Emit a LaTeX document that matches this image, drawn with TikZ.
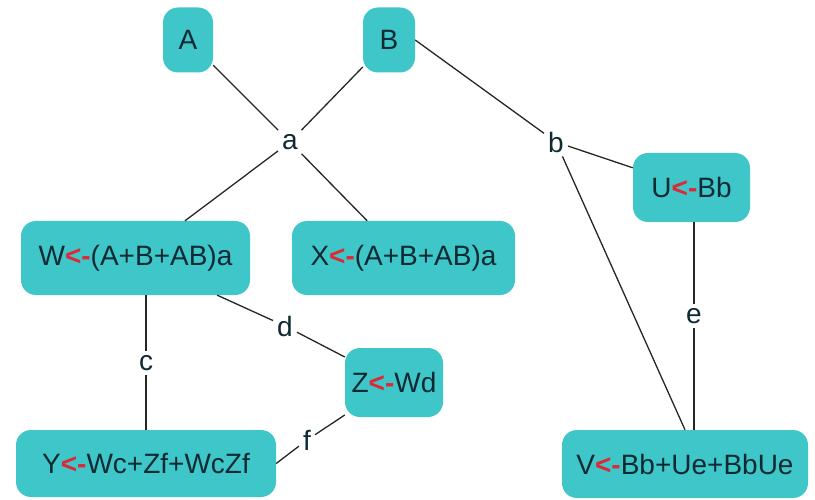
\documentclass[tikz,border=0pt]{standalone}
\usepackage{fontspec}
\setmainfont{Liberation Sans}
\definecolor{boxfill}{RGB}{62,198,200}
\definecolor{txt}{RGB}{16,42,52}
\definecolor{arr}{RGB}{222,40,52}
\newcommand{\lar}{{\color{arr}\textbf{<-}}}
\begin{document}
\begin{tikzpicture}[x=1pt,y=-1pt,
  box/.style={draw=none,fill=boxfill,rounded corners=15pt,text=txt,inner sep=0pt,
    font=\fontsize{28}{30}\selectfont},
  lbl/.style={inner sep=4pt,text=txt,font=\fontsize{28}{30}\selectfont},
  conn/.style={draw=black!85,line width=1.3pt}]
\useasboundingbox[fill=white] (0,0) rectangle (815,500);
% boxes
\node[box,minimum width=50pt,minimum height=65pt] (A) at (188,40) {A};
\node[box,minimum width=52pt,minimum height=65pt] (B) at (389,40) {B};
\node[box,minimum width=229pt,minimum height=74pt] (W) at (135.5,258) {W\lar(A+B+AB)a};
\node[box,minimum width=223pt,minimum height=74pt] (X) at (403.5,258) {X\lar(A+B+AB)a};
\node[box,minimum width=117pt,minimum height=69pt] (U) at (691.5,187.5) {U\lar Bb};
\node[box,minimum width=98pt,minimum height=69pt] (Z) at (394,382.5) {Z\lar Wd};
\node[box,minimum width=260pt,minimum height=67pt] (Y) at (146,463.5) {Y\lar Wc+Zf+WcZf};
\node[box,minimum width=246pt,minimum height=68pt] (V) at (685,464) {V\lar Bb+Ue+BbUe};
% labels
\node[lbl] (a) at (290,142) {a};
\node[lbl] (b) at (556,142) {b};
\node[lbl] (c) at (146,363) {c};
\node[lbl] (d) at (285,326) {d};
\node[lbl] (e) at (694,316) {e};
\node[lbl] (f) at (307,440) {f};
% connectors
\draw[conn] (A) -- (a);
\draw[conn] (a) -- (B);
\draw[conn] (a) -- (W);
\draw[conn] (a) -- (X);
\draw[conn] (B.east) -- (b);
\draw[conn] (b) -- (U);
\draw[conn] (b) -- (V.north);
\draw[conn] (c |- W.south) -- (c);
\draw[conn] (c) -- (c |- Y.north);
\draw[conn] (W) -- (d);
\draw[conn] (d) -- (Z);
\draw[conn] (Z) -- (f);
\draw[conn] (f) -- (Y.east);
\draw[conn] (e |- U.south) -- (e);
\draw[conn] (e) -- (e |- V.north);
\end{tikzpicture}
\end{document}
